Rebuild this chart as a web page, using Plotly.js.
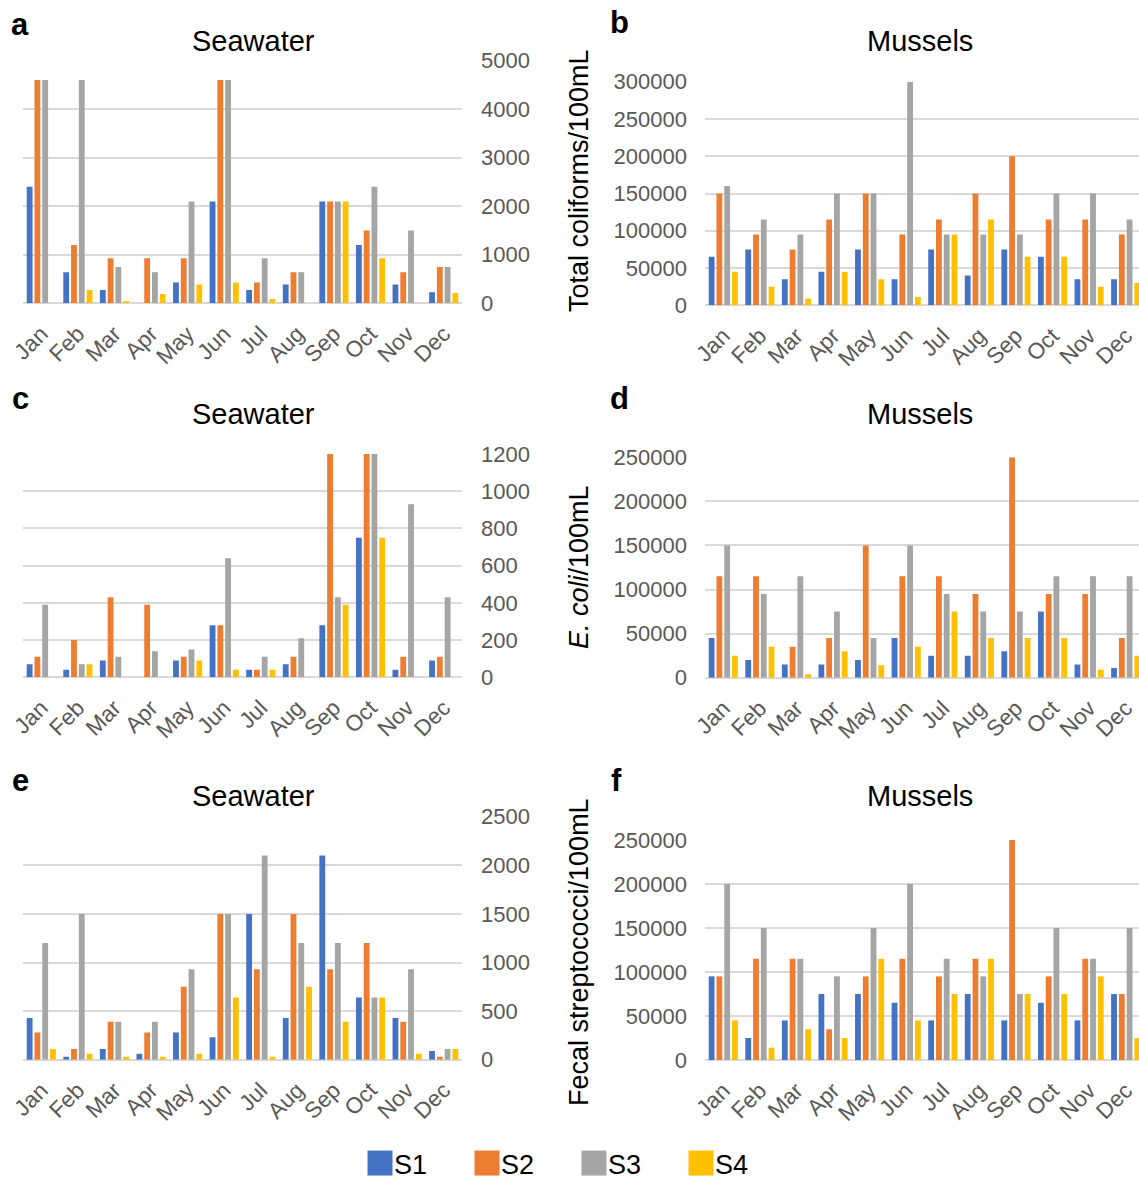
<!DOCTYPE html>
<html>
<head>
<meta charset="utf-8">
<script src="https://cdn.plot.ly/plotly-3.0.1.min.js"></script>
<style>html,body{margin:0;padding:0;background:#fff;overflow:hidden}#chart{width:1139px;height:1180px}</style>
</head>
<body>
<div id="chart"></div>
<script>
// ---------- DATA ----------
const months = ['Jan','Feb','Mar','Apr','May','Jun','Jul','Aug','Sep','Oct','Nov','Dec'];
const seriesNames = ['S1','S2','S3','S4'];
const seriesColors = ['#4472C4','#ED7D31','#A5A5A5','#FFC000'];

// a: Seawater – total coliforms
const seaTC_S1 = [2400,640,275,0,430,2100,275,390,2100,1200,390,230];
const seaTC_S2 = [4600,1200,930,930,930,4600,430,640,2100,1500,640,750];
const seaTC_S3 = [4600,4600,750,640,2100,4600,930,640,2100,2400,1500,750];
const seaTC_S4 = [0,275,40,190,390,430,90,0,2100,930,0,210];
// b: Mussels – total coliforms
const musTC_S1 = [65000,75000,35000,45000,75000,35000,75000,40000,75000,65000,35000,35000];
const musTC_S2 = [150000,95000,75000,115000,150000,95000,115000,150000,200000,115000,115000,95000];
const musTC_S3 = [160000,115000,95000,150000,150000,300000,95000,95000,95000,150000,150000,115000];
const musTC_S4 = [45000,25000,9000,45000,35000,11000,95000,115000,65000,65000,25000,30000];
// c: Seawater – E. coli
const seaEC_S1 = [70,40,90,0,90,280,40,70,280,750,40,90];
const seaEC_S2 = [110,200,430,390,110,280,40,110,1200,1200,110,110];
const seaEC_S3 = [390,70,110,140,150,640,110,210,430,1200,930,430];
const seaEC_S4 = [0,70,0,0,90,40,40,0,390,750,0,0];
// d: Mussels – E. coli
const musEC_S1 = [45000,20000,15000,15000,20000,45000,25000,25000,30000,75000,15000,11000];
const musEC_S2 = [115000,115000,35000,45000,150000,115000,115000,95000,250000,95000,95000,45000];
const musEC_S3 = [150000,95000,115000,75000,45000,150000,95000,75000,75000,115000,115000,115000];
const musEC_S4 = [25000,35000,4000,30000,14000,35000,75000,45000,45000,45000,9000,25000];
// e: Seawater – fecal streptococci
const seaFS_S1 = [430,30,110,60,280,230,1500,430,2100,640,430,90];
const seaFS_S2 = [280,110,390,280,750,1500,930,1500,930,1200,390,30];
const seaFS_S3 = [1200,1500,390,390,930,1500,2100,1200,1200,640,930,110];
const seaFS_S4 = [110,60,30,30,60,640,30,750,390,640,60,110];
// f: Mussels – fecal streptococci
const musFS_S1 = [95000,25000,45000,75000,75000,65000,45000,75000,45000,65000,45000,75000];
const musFS_S2 = [95000,115000,115000,35000,95000,115000,95000,115000,250000,95000,115000,75000];
const musFS_S3 = [200000,150000,115000,95000,150000,200000,115000,95000,75000,150000,115000,150000];
const musFS_S4 = [45000,14000,35000,25000,115000,45000,75000,115000,75000,75000,95000,25000];

const panelSeries = [
  [seaTC_S1,seaTC_S2,seaTC_S3,seaTC_S4],
  [musTC_S1,musTC_S2,musTC_S3,musTC_S4],
  [seaEC_S1,seaEC_S2,seaEC_S3,seaEC_S4],
  [musEC_S1,musEC_S2,musEC_S3,musEC_S4],
  [seaFS_S1,seaFS_S2,seaFS_S3,seaFS_S4],
  [musFS_S1,musFS_S2,musFS_S3,musFS_S4]
];
const panelLetters = ['a','b','c','d','e','f'];
const panelTitles = ['Seawater','Mussels','Seawater','Mussels','Seawater','Mussels'];
const yTitles = ['Total coliforms/100mL','<i>E. coli</i>/100mL','Fecal streptococci/100mL'];
const yMax = [5000,300000,1200,250000,2500,250000];
const yStep = [1000,50000,200,50000,500,50000];

// ---------- LAYOUT GEOMETRY (pixels) ----------
const W = 1139, H = 1180;
const FONT = 'Arial, "Liberation Sans", Helvetica, sans-serif';
const px = x => x / W;
const py = y => 1 - y / H;
// [left, right, top, bottom] of each plotting area
const boxes = [
  [23, 462, 60.7, 303.3],
  [705, 1139, 81.7, 305.3],
  [23, 462, 454, 677.3],
  [705, 1139, 457.3, 677.7],
  [23, 462, 816.7, 1059.7],
  [705, 1139, 840, 1060]
];
const titleY = [41, 41, 414, 414, 796, 796];
const letterPos = [[20,25],[619,23],[20,398],[619,398],[20,780],[616,780]];
const yTitlePos = [181, 567, 952];

const traces = [];
const layout = {
  width: W, height: H,
  margin: {l:0, r:0, t:0, b:0, autoexpand: false},
  paper_bgcolor: '#fff', plot_bgcolor: '#fff',
  font: {family: FONT, color: '#595959', size: 22},
  barmode: 'group', bargap: 0.15, bargroupgap: 0.25,
  showlegend: true,
  legend: {
    orientation: 'h', x: px(360), xanchor: 'left', y: 0, yanchor: 'bottom',
    font: {family: FONT, size: 27, color: '#000'},
    entrywidth: 62, entrywidthmode: 'pixels', traceorder: 'normal'
  },
  annotations: [],
  shapes: []
};

panelSeries.forEach((series, p) => {
  const n = p + 1;
  const xa = 'x' + (n === 1 ? '' : n), ya = 'y' + (n === 1 ? '' : n);
  const xk = 'xaxis' + (n === 1 ? '' : n), yk = 'yaxis' + (n === 1 ? '' : n);
  const isLeft = (p % 2 === 0);
  const b = boxes[p];
  series.forEach((vals, s) => {
    traces.push({
      type: 'bar', x: months, y: vals, name: seriesNames[s],
      xaxis: xa, yaxis: ya,
      marker: {color: seriesColors[s], line: {width: 0}},
      legendgroup: seriesNames[s], showlegend: p === 0,
      hoverinfo: 'x+y+name'
    });
  });
  layout[xk] = {
    domain: [px(b[0]), px(b[1])],
    anchor: ya,
    type: 'category',
    range: isLeft ? [-0.5, 11.5] : [-0.5, 11.5 - (1144 - 1139) / ((1144 - 705) / 12)],
    tickangle: -45,
    tickfont: {family: FONT, size: 22.5, color: '#595959'},
    ticks: '', showline: false, showgrid: false, zeroline: false,
    ticklabelstandoff: 12,
    automargin: false,
    fixedrange: true
  };
  layout[yk] = {
    domain: [py(b[3]), py(b[2])],
    anchor: xa,
    side: isLeft ? 'right' : 'left',
    range: [0, yMax[p]],
    dtick: yStep[p], tick0: 0,
    tickformat: 'd',
    tickfont: {family: FONT, size: 22, color: '#595959'},
    ticks: '', showline: false,
    showgrid: true, gridcolor: '#d9d9d9', gridwidth: 2,
    zeroline: true, zerolinecolor: '#d9d9d9', zerolinewidth: 2,
    ticklabelstandoff: isLeft ? 18 : 17,
    automargin: false,
    fixedrange: true
  };
  layout.annotations.push({
    xref: 'paper', yref: 'paper',
    x: px(isLeft ? 253 : 920), y: py(titleY[p]),
    xanchor: 'center', yanchor: 'middle',
    text: panelTitles[p], showarrow: false,
    font: {family: FONT, size: 29, color: '#000'}
  });
  layout.annotations.push({
    xref: 'paper', yref: 'paper',
    x: px(letterPos[p][0]), y: py(letterPos[p][1]),
    xanchor: 'center', yanchor: 'middle',
    text: '<b>' + panelLetters[p] + '</b>', showarrow: false,
    font: {family: FONT, size: 31, color: '#000'}
  });
  if (!isLeft) {
    layout.annotations.push({
      xref: 'paper', yref: 'paper',
      x: px(579), y: py(yTitlePos[(p - 1) / 2]),
      xanchor: 'center', yanchor: 'middle', textangle: -90,
      text: yTitles[(p - 1) / 2], showarrow: false,
      font: {family: FONT, size: 27, color: '#000'}
    });
  }
});

Plotly.newPlot('chart', traces, layout, {staticPlot: true, displayModeBar: false}).then(() => {
  // enlarge the legend swatches to match the reference's square keys
  document.querySelectorAll('.legend .legendpoints path').forEach(p => {
    p.setAttribute('d', 'M12.5,12.5H-12.5V-12.5H12.5Z');
  });
  document.querySelectorAll('.legend .legendtext').forEach(t => {
    t.setAttribute('x', '34');
  });
  // nudge the legend down a little to sit on the reference's baseline
  const lg = document.querySelector('.legend');
  if (lg) {
    const m = /translate\(([-\d.]+)[ ,]+([-\d.]+)\)/.exec(lg.getAttribute('transform') || '');
    if (m) lg.setAttribute('transform', 'translate(' + m[1] + ',' + (parseFloat(m[2]) + 8) + ')');
  }
});
</script>
</body>
</html>
